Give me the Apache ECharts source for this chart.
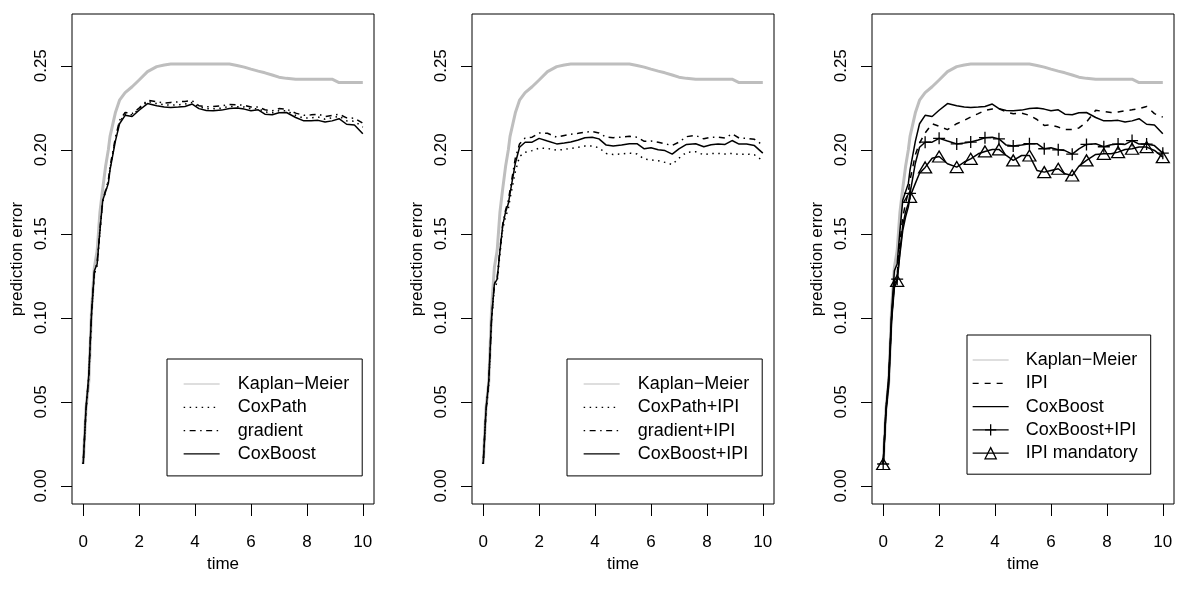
<!DOCTYPE html>
<html>
<head>
<meta charset="utf-8">
<title>prediction error curves</title>
<script src="https://cdn.jsdelivr.net/npm/echarts@6/dist/echarts.min.js"></script>
<style>
  html, body { margin: 0; padding: 0; background: #fff; }
  #chart { width: 1200px; height: 600px; }
</style>
</head>
<body>
<div id="chart"></div>
<script>
// evaluation times shared by every curve
const times = [0, 0.1, 0.2, 0.3, 0.4, 0.5, 0.6, 0.7, 0.8, 0.9,
  0.96, 1.15, 1.3, 1.5, 1.75, 2.0, 2.3, 2.63, 2.9, 3.13,
  3.4, 3.64, 3.9, 4.14, 4.4, 4.65, 4.95, 5.23, 5.5, 5.76,
  6.0, 6.26, 6.5, 6.76, 7.0, 7.27, 7.6, 7.89, 8.15, 8.4,
  8.65, 8.9, 9.15, 9.42, 9.7, 10.0];
// times where the plot symbols sit (right panel)
const markTimes = [0, 0.5, 0.96, 1.5, 2.0, 2.63, 3.13, 3.64, 4.14, 4.65,
  5.23, 5.76, 6.26, 6.76, 7.27, 7.89, 8.4, 8.9, 9.42, 10.0];
const xTicks = [0, 2, 4, 6, 8, 10];
const yTicks = [0, 0.05, 0.1, 0.15, 0.2, 0.25];

const kaplanMeier = [0.013, 0.046, 0.062, 0.105, 0.130, 0.140, 0.163, 0.177, 0.190, 0.200,
  0.208, 0.222, 0.2295, 0.234, 0.2375, 0.2415, 0.2465, 0.2495, 0.2505, 0.251,
  0.251, 0.251, 0.251, 0.251, 0.251, 0.251, 0.251, 0.251, 0.2502, 0.2492,
  0.248, 0.2468, 0.2458, 0.2445, 0.2432, 0.2425, 0.242, 0.242, 0.242, 0.242,
  0.242, 0.242, 0.240, 0.240, 0.240, 0.240];
const coxPath = [0.013, 0.045, 0.064, 0.102, 0.126, 0.131, 0.151, 0.169, 0.175, 0.181,
  0.189, 0.206, 0.2165, 0.2212, 0.2208, 0.2242, 0.2288, 0.2275, 0.2268, 0.2265,
  0.2268, 0.2272, 0.2282, 0.2255, 0.2245, 0.2244, 0.2248, 0.2258, 0.2256, 0.2255,
  0.2244, 0.2245, 0.2225, 0.2220, 0.2232, 0.2232, 0.2205, 0.2188, 0.2190, 0.2195,
  0.2182, 0.2190, 0.2200, 0.2172, 0.2170, 0.2135];
const gradient = [0.013, 0.045, 0.065, 0.104, 0.127, 0.133, 0.153, 0.170, 0.176, 0.182,
  0.190, 0.207, 0.2175, 0.2222, 0.2215, 0.2248, 0.2295, 0.2285, 0.2278, 0.2282,
  0.2285, 0.2288, 0.2292, 0.2262, 0.2255, 0.2258, 0.2262, 0.2270, 0.2268, 0.2265,
  0.2255, 0.2255, 0.2238, 0.2232, 0.2245, 0.2242, 0.2218, 0.2205, 0.2208, 0.2212,
  0.2198, 0.2205, 0.2212, 0.2190, 0.2188, 0.2158];
const coxBoost = [0.013, 0.046, 0.066, 0.103, 0.128, 0.132, 0.152, 0.170, 0.175, 0.180,
  0.188, 0.205, 0.2155, 0.2205, 0.2198, 0.2235, 0.2275, 0.2262, 0.2255, 0.2252,
  0.2255, 0.2258, 0.2272, 0.2245, 0.2234, 0.2232, 0.2236, 0.2245, 0.2248, 0.2242,
  0.2232, 0.2238, 0.2212, 0.2208, 0.2220, 0.2222, 0.2192, 0.2172, 0.2172, 0.2175,
  0.2165, 0.2172, 0.2185, 0.2152, 0.2148, 0.2095];
const coxPathIPI = [0.013, 0.044, 0.060, 0.098, 0.118, 0.121, 0.138, 0.153, 0.160, 0.165,
  0.171, 0.187, 0.196, 0.1985, 0.1995, 0.2010, 0.2008, 0.1998, 0.2002, 0.2008,
  0.2015, 0.2022, 0.2022, 0.2012, 0.1978, 0.1972, 0.1975, 0.1980, 0.1975, 0.1945,
  0.1940, 0.1935, 0.1925, 0.1912, 0.1950, 0.1985, 0.1988, 0.1970, 0.1978, 0.1978,
  0.1975, 0.1978, 0.1972, 0.1975, 0.1970, 0.1935];
const gradientIPI = [0.013, 0.045, 0.062, 0.100, 0.120, 0.124, 0.141, 0.156, 0.164, 0.170,
  0.176, 0.195, 0.2035, 0.2070, 0.2075, 0.2100, 0.2098, 0.2075, 0.2085, 0.2092,
  0.2098, 0.2105, 0.2108, 0.2100, 0.2075, 0.2072, 0.2075, 0.2080, 0.2075, 0.2050,
  0.2052, 0.2045, 0.2035, 0.2026, 0.2045, 0.2078, 0.2085, 0.2065, 0.2075, 0.2075,
  0.2070, 0.2095, 0.2070, 0.2068, 0.2062, 0.2028];
const coxBoostIPI = [0.013, 0.045, 0.063, 0.100, 0.120, 0.123, 0.140, 0.155, 0.163, 0.168,
  0.174, 0.192, 0.2015, 0.2045, 0.2045, 0.2068, 0.2052, 0.2035, 0.2040, 0.2046,
  0.2058, 0.2072, 0.2075, 0.2065, 0.2028, 0.2022, 0.2028, 0.2036, 0.2036, 0.2006,
  0.2012, 0.2000, 0.1995, 0.1974, 0.2005, 0.2032, 0.2036, 0.2018, 0.2030, 0.2034,
  0.2032, 0.2055, 0.2034, 0.2034, 0.2025, 0.1980];
const ipi = [0.013, 0.045, 0.064, 0.100, 0.122, 0.126, 0.145, 0.160, 0.168, 0.175,
  0.182, 0.197, 0.204, 0.210, 0.2155, 0.2140, 0.2120, 0.2155, 0.2175, 0.2195,
  0.2215, 0.2234, 0.2242, 0.2244, 0.2225, 0.2215, 0.2218, 0.2205, 0.2180, 0.2145,
  0.2148, 0.2135, 0.2120, 0.2120, 0.2130, 0.2165, 0.2235, 0.2228, 0.2222, 0.2225,
  0.2232, 0.2238, 0.2245, 0.2258, 0.2215, 0.2194];
const ipiMandatory = [0.013, 0.044, 0.060, 0.098, 0.118, 0.122, 0.138, 0.152, 0.160, 0.166,
  0.172, 0.180, 0.186, 0.1895, 0.1950, 0.1960, 0.1917, 0.1897, 0.1927, 0.1946,
  0.1976, 0.1990, 0.2002, 0.2002, 0.1966, 0.1937, 0.1966, 0.1966, 0.1877, 0.1867,
  0.1877, 0.1887, 0.1857, 0.1847, 0.1903, 0.1937, 0.1972, 0.1976, 0.1976, 0.1986,
  0.2002, 0.2006, 0.2016, 0.2016, 0.1996, 0.1956];

const FONT = '"Liberation Sans", Arial, Helvetica, sans-serif';
const GREY = '#bebebe';
const DOTTED = [1.5, 4.5];
const DOTDASH = [1.5, 4.5, 6, 4.5];
const DASHED = [6, 6];
const PLUS = 'path://M0,-1L0,1M-1,0L1,0';
const panelLeft = [72, 472, 872];
const marks = new Set(markTimes);

// one line per curve; names carry the panel number so each legend finds its own series
function curve(p, name, values, st) {
  return {
    type: 'line',
    name: p + '|' + name,
    xAxisIndex: p,
    yAxisIndex: p,
    data: times.map((t, i) => [t, values[i]]),
    symbol: st.symbol || 'none',
    symbolSize: st.symbol ? (v => marks.has(v[0]) ? st.size : 0) : 4,
    showAllSymbol: true,
    lineStyle: { color: st.color || '#000', width: st.width || 1.5, type: st.dash || 'solid' },
    itemStyle: { color: 'rgba(0,0,0,0)', borderColor: '#000', borderWidth: 1.3 },
    emphasis: { disabled: true },
    z: st.z || 3
  };
}

function km(p) {
  return curve(p, 'Kaplan\u2212Meier', kaplanMeier, { color: GREY, width: 3, z: 2 });
}

function legendEntry(p, name, st) {
  return {
    name: p + '|' + name,
    lineStyle: { color: st.color || '#000', width: st.width || 1.3, type: st.dash || 'solid' },
    itemStyle: st.symbol
      ? { color: 'rgba(0,0,0,0)', borderColor: '#000', borderWidth: 1.3 }
      : { opacity: 0 }
  };
}

function legendBox(left, top, padding, textGap, entries) {
  return {
    orient: 'vertical',
    left: left,
    top: top,
    padding: padding,
    itemWidth: 36,
    itemHeight: 14,
    itemGap: 5.3,
    selectedMode: false,
    backgroundColor: '#fff',
    borderColor: '#000',
    borderWidth: 1,
    borderRadius: 0,
    textStyle: { fontFamily: FONT, fontSize: 18, lineHeight: 18, color: '#000', padding: [0, 0, 0, textGap] },
    formatter: n => n.split('|')[1],
    data: entries
  };
}

const textStyle = { fontFamily: FONT, fontSize: 17, color: '#000' };

const option = {
  animation: false,
  backgroundColor: '#fff',
  grid: panelLeft.map(l => ({
    left: l, top: 14, width: 302, height: 490,
    show: true, borderColor: '#000', borderWidth: 1, backgroundColor: 'transparent'
  })),
  xAxis: panelLeft.map((l, p) => ({
    gridIndex: p,
    type: 'value',
    min: -0.4,
    max: 10.4,
    axisLine: { show: false, onZero: false },
    splitLine: { show: false },
    axisTick: { show: true, length: 12, customValues: xTicks, lineStyle: { color: '#000', width: 1 } },
    axisLabel: Object.assign({ customValues: xTicks, margin: 30 }, textStyle),
    name: 'time',
    nameLocation: 'middle',
    nameGap: 52,
    nameTextStyle: textStyle
  })),
  yAxis: panelLeft.map((l, p) => ({
    gridIndex: p,
    type: 'value',
    min: -0.0108,
    max: 0.2808,
    axisLine: { show: false, onZero: false },
    splitLine: { show: false },
    axisTick: { show: true, length: 11, customValues: yTicks, lineStyle: { color: '#000', width: 1 } },
    axisLabel: Object.assign({ customValues: yTicks, rotate: 90, margin: 22, formatter: v => v.toFixed(2) }, textStyle),
    name: 'prediction error',
    nameLocation: 'middle',
    nameRotate: 90,
    nameGap: 46,
    nameTextStyle: textStyle
  })),
  legend: [
    legendBox(167, 359, [16, 13, 13, 16], 13, [
      legendEntry(0, 'Kaplan\u2212Meier', { color: GREY, width: 1.2 }),
      legendEntry(0, 'CoxPath', { dash: DOTTED }),
      legendEntry(0, 'gradient', { dash: DOTDASH }),
      legendEntry(0, 'CoxBoost', {})
    ]),
    legendBox(567, 359, [16, 13, 13, 16], 13, [
      legendEntry(1, 'Kaplan\u2212Meier', { color: GREY, width: 1.2 }),
      legendEntry(1, 'CoxPath+IPI', { dash: DOTTED }),
      legendEntry(1, 'gradient+IPI', { dash: DOTDASH }),
      legendEntry(1, 'CoxBoost+IPI', {})
    ]),
    legendBox(967, 335, [16, 13, 12, 5], 12, [
      legendEntry(2, 'Kaplan\u2212Meier', { color: GREY, width: 1.2 }),
      legendEntry(2, 'IPI', { dash: DASHED }),
      legendEntry(2, 'CoxBoost', {}),
      legendEntry(2, 'CoxBoost+IPI', { symbol: PLUS }),
      legendEntry(2, 'IPI mandatory', { symbol: 'triangle' })
    ])
  ],
  series: [
    km(0),
    curve(0, 'CoxPath', coxPath, { dash: DOTTED }),
    curve(0, 'gradient', gradient, { dash: DOTDASH }),
    curve(0, 'CoxBoost', coxBoost, {}),
    km(1),
    curve(1, 'CoxPath+IPI', coxPathIPI, { dash: DOTTED }),
    curve(1, 'gradient+IPI', gradientIPI, { dash: DOTDASH }),
    curve(1, 'CoxBoost+IPI', coxBoostIPI, {}),
    km(2),
    curve(2, 'IPI', ipi, { dash: DASHED }),
    curve(2, 'CoxBoost', coxBoost, {}),
    curve(2, 'CoxBoost+IPI', coxBoostIPI, { symbol: PLUS, size: 12 }),
    curve(2, 'IPI mandatory', ipiMandatory, { symbol: 'triangle', size: [13, 11] })
  ]
};

const myChart = echarts.init(document.getElementById('chart'));
myChart.setOption(option);
</script>
</body>
</html>
